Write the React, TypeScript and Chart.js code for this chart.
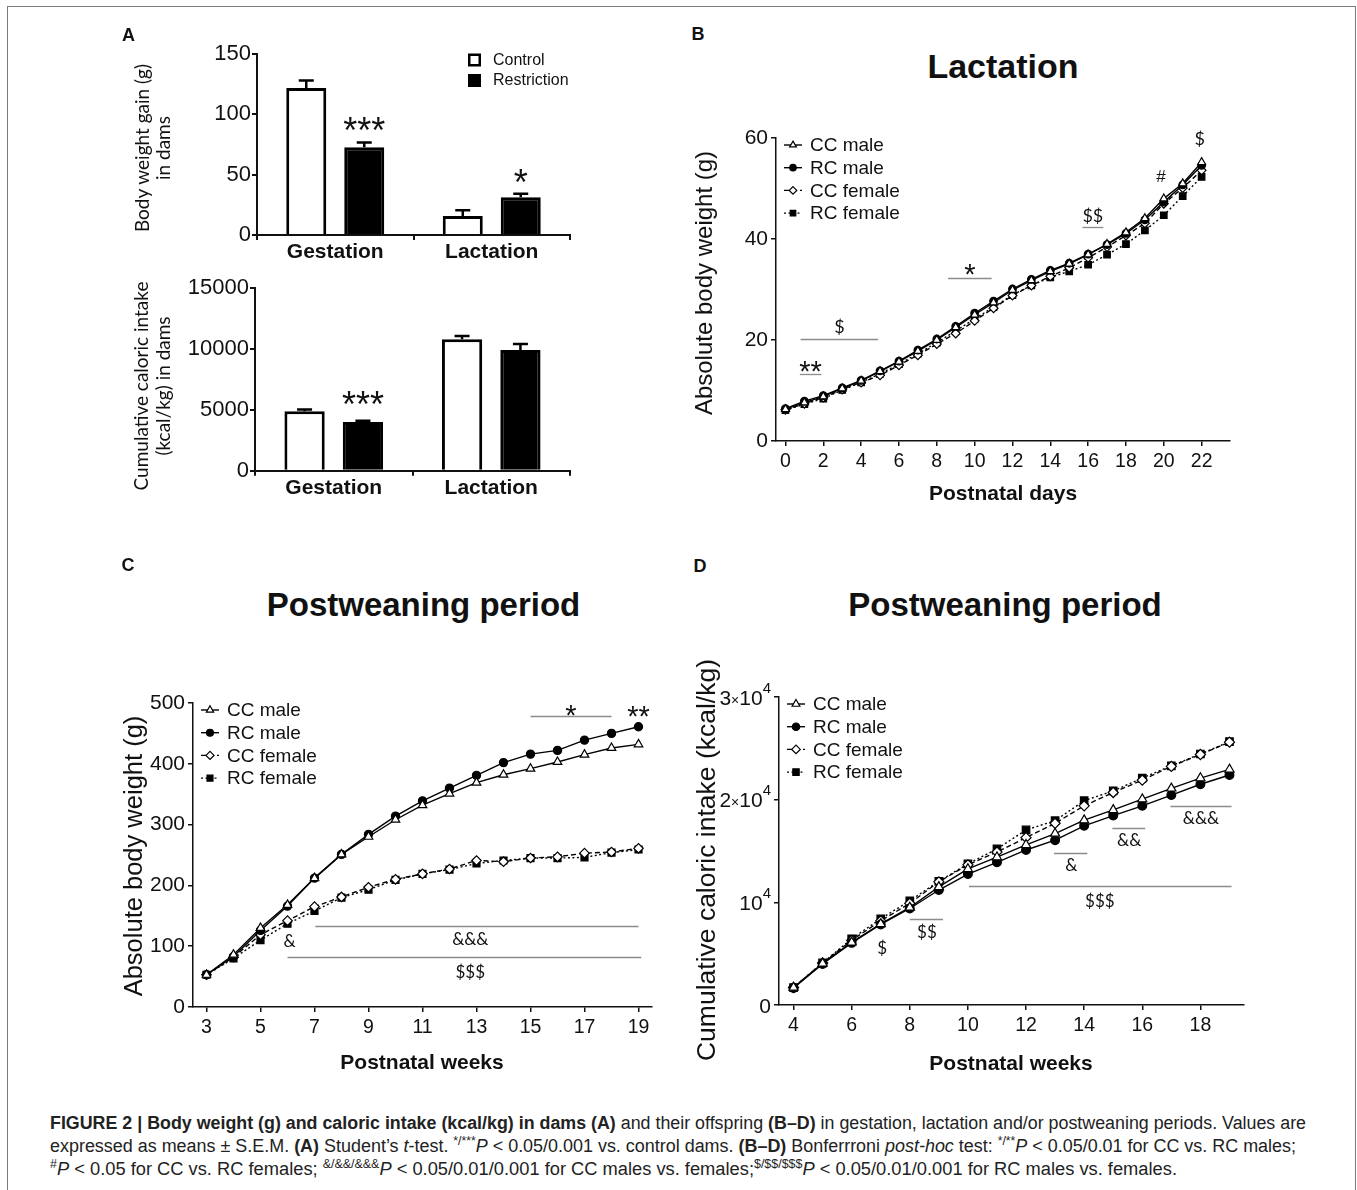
import React, { useEffect, useLayoutEffect, useRef } from "react";
import { Chart, registerables } from "chart.js";

Chart.register(...registerables);

const ARIAL = '"Liberation Sans", Arial, Helvetica, sans-serif';
const SOFT = 'Lato, "Open Sans", sans-serif';
const INK = "#111";

// ---------------- Panel A (dams) ----------------
const damPeriods = ["Gestation", "Lactation"];
const groupNames = ["Control", "Restriction"];
const gainControl = [121.5, 15.8];
const gainControlSem = [6.2, 4.6];
const gainRestriction = [72.6, 31.3];
const gainRestrictionSem = [3.8, 2.8];
const gainTicks = [0, 50, 100, 150];
const gainStars = [
  { index: 0, y: 93.4, text: "***" },
  { index: 1, y: 50.3, text: "*" },
];
const intakeControl = [4890, 10810];
const intakeControlSem = [150, 270];
const intakeRestriction = [4010, 9930];
const intakeRestrictionSem = [90, 490];
const intakeTicks = [0, 5000, 10000, 15000];
const intakeStars = [{ index: 0, y: 6086, text: "***" }];

// ---------------- Offspring series ----------------
const seriesNames = ["CC male", "RC male", "CC female", "RC female"];

// Panel B – lactation, body weight (g)
const lactationDays = [0, 1, 2, 3, 4, 5, 6, 7, 8, 9, 10, 11, 12, 13, 14, 15, 16, 17, 18, 19, 20, 21, 22];
const lactCCMale = [6.3, 7.6, 8.8, 10.4, 11.9, 13.8, 15.7, 17.8, 20.0, 22.5, 25.0, 27.4, 29.9, 31.8, 33.6, 35.1, 36.9, 39.0, 41.3, 44.1, 48.0, 51.0, 55.2];
const lactRCMale = [6.4, 7.9, 9.0, 10.5, 12.0, 13.9, 15.8, 18.0, 20.2, 22.7, 25.3, 27.7, 30.1, 32.0, 33.8, 35.2, 37.0, 38.9, 41.1, 43.8, 47.3, 50.7, 54.6];
const lactCCFemale = [6.2, 7.4, 8.6, 10.2, 11.6, 13.0, 15.0, 17.0, 19.2, 21.3, 23.8, 26.3, 28.8, 30.8, 32.6, 34.3, 36.3, 38.4, 40.7, 43.1, 47.0, 50.1, 53.6];
const lactRCFemale = [6.1, 7.3, 8.4, 10.1, 11.6, 13.3, 15.2, 17.3, 19.5, 21.8, 24.2, 26.5, 28.9, 30.8, 32.4, 33.6, 34.9, 36.9, 39.0, 41.7, 44.7, 48.5, 52.3];
const lactXTicks = [0, 2, 4, 6, 8, 10, 12, 14, 16, 18, 20, 22];
const lactYTicks = [0, 20, 40, 60];
const lactSegs = [
  { from: 0.8, to: 4.9, y: 20.1 },
  { from: 0.76, to: 1.9, y: 13.2 },
  { from: 8.6, to: 10.9, y: 32.3 },
  { from: 15.7, to: 16.8, y: 42.4 },
];
const lactMarks = [
  { x: 2.85, y: 22.7, text: "$" },
  { x: 1.33, y: 15.1, text: "**" },
  { x: 9.75, y: 34.3, text: "*" },
  { x: 16.25, y: 44.7, text: "$$" },
  { x: 19.85, y: 52.5, text: "#" },
  { x: 21.9, y: 59.8, text: "$" },
];

// Panel C – postweaning, body weight (g)
const weeksC = [3, 4, 5, 6, 7, 8, 9, 10, 11, 12, 13, 14, 15, 16, 17, 18, 19];
const pwCCMale = [53, 86, 130, 168, 212, 251, 280, 308, 332, 351, 369, 382, 392, 403, 415, 426, 432];
const pwRCMale = [53, 83, 126, 166, 212, 251, 284, 314, 339, 360, 381, 402, 416, 422, 439, 450, 461];
const pwCCFemale = [53, 82, 119, 142, 165, 181, 197, 210, 219, 227, 241, 239, 245, 247, 253, 255, 261];
const pwRCFemale = [53, 80, 110, 137, 158, 180, 193, 209, 219, 226, 236, 241, 245, 245, 246, 254, 259];
const pwXTicks = [3, 5, 7, 9, 11, 13, 15, 17, 19];
const pwYTicks = [0, 100, 200, 300, 400, 500];
const pwSegs = [
  { from: 15, to: 18, y: 479 },
  { from: 7.03, to: 19, y: 134 },
  { from: 6, to: 19.1, y: 82 },
];
const pwMarks = [
  { x: 16.5, y: 491, text: "*" },
  { x: 19, y: 490, text: "**" },
  { x: 12.77, y: 112, text: "&&&" },
  { x: 6.08, y: 109, text: "&" },
  { x: 12.77, y: 57, text: "$$$" },
];

// Panel D – postweaning, cumulative caloric intake (kcal/kg)
const weeksD = [4, 5, 6, 7, 8, 9, 10, 11, 12, 13, 14, 15, 16, 17, 18, 19];
const kcalCCMale = [1700, 4050, 6100, 7900, 9500, 11500, 13250, 14400, 15600, 16700, 18000, 19000, 20050, 21100, 22100, 22950];
const kcalRCMale = [1650, 4000, 6050, 7850, 9400, 11200, 12750, 13900, 15100, 16050, 17450, 18450, 19400, 20450, 21500, 22400];
const kcalCCFemale = [1700, 4100, 6300, 8200, 9900, 12000, 13650, 14900, 16300, 17700, 19400, 20700, 21900, 23250, 24400, 25600];
const kcalRCFemale = [1700, 4100, 6450, 8400, 10150, 12050, 13750, 15200, 17050, 17950, 19900, 20850, 22100, 23300, 24450, 25650];
const kcalXTicks = [4, 6, 8, 10, 12, 14, 16, 18];
const kcalYTicks = [0, 10000, 20000, 30000];
// mantissa, exponent of each tick label ("" = none)
const kcalYTickMantissa = ["0", "", "2", "3"];
const kcalYTickPower = ["", "10^4", "10^4", "10^4"];
const kcalSegs = [
  { from: 16.97, to: 19.07, y: 19366 },
  { from: 14.97, to: 16.1, y: 17232 },
  { from: 12.96, to: 14.11, y: 14840 },
  { from: 10.04, to: 19.07, y: 11574 },
  { from: 8.0, to: 9.14, y: 8406 },
];
const kcalMarks = [
  { x: 18.02, y: 18266, text: "&&&" },
  { x: 15.55, y: 16068, text: "&&" },
  { x: 13.56, y: 13675, text: "&" },
  { x: 14.54, y: 10119, text: "$$$" },
  { x: 8.59, y: 7113, text: "$$" },
  { x: 7.05, y: 5593, text: "$" },
];

// ---------------- helpers ----------------
type Rect = { x: number; y: number; w: number; h: number };
type Area = { l: number; t: number; r: number; b: number };
type Seg = { from: number; to: number; y: number };
type Mark = { x: number; y: number; text: string };

function geometry(c: Rect, a: Area) {
  return {
    padding: { top: a.t - c.y, right: c.x + c.w - a.r, left: 0, bottom: 0 },
    yWidth: a.l - c.x,
    xHeight: c.y + c.h - a.b,
  };
}

const seriesStyles = [
  { point: "triangle", fill: "#fff", dash: [] as number[], scale: 1.15 },
  { point: "circle", fill: "#000", dash: [] as number[], scale: 0.95 },
  { point: "rectRot", fill: "#fff", dash: [5, 3], scale: 1.1 },
  { point: "rect", fill: "#000", dash: [2, 2.5], scale: 1.15 },
];

function drawMarker(ctx: CanvasRenderingContext2D, style: string, x: number, y: number, r: number, fill: string) {
  ctx.beginPath();
  if (style === "circle") {
    ctx.arc(x, y, r, 0, Math.PI * 2);
  } else if (style === "triangle") {
    for (let k = 0; k < 3; k++) {
      const a = (k * 2 * Math.PI) / 3;
      const px = x + Math.sin(a) * r;
      const py = y - Math.cos(a) * r;
      if (k === 0) ctx.moveTo(px, py);
      else ctx.lineTo(px, py);
    }
    ctx.closePath();
  } else if (style === "rect") {
    const s = r * Math.SQRT1_2;
    ctx.rect(x - s, y - s, 2 * s, 2 * s);
  } else {
    ctx.moveTo(x, y - r);
    ctx.lineTo(x + r, y);
    ctx.lineTo(x, y + r);
    ctx.lineTo(x - r, y);
    ctx.closePath();
  }
  ctx.fillStyle = fill;
  ctx.fill();
  ctx.lineWidth = 1.2;
  ctx.strokeStyle = "#000";
  ctx.stroke();
}

function drawMarkText(ctx: CanvasRenderingContext2D, text: string, px: number, py: number, starSize: number, symSize: number) {
  const isStar = text.indexOf("*") >= 0;
  const isHash = text.indexOf("#") >= 0;
  const size = isStar ? starSize : isHash ? symSize * 0.95 : symSize;
  ctx.font = `${size}px ${isStar || isHash ? ARIAL : SOFT}`;
  ctx.fillStyle = INK;
  ctx.textAlign = "center";
  ctx.textBaseline = "alphabetic";
  ctx.fillText(text, px, py + size * (isStar ? 0.57 : 0.36));
}

// draws "m×10^e" style labels, right-aligned at xr, vertically centred at y
function drawPowerLabel(ctx: CanvasRenderingContext2D, mant: string, power: string, xr: number, y: number) {
  const big = `21px ${ARIAL}`;
  const small = `14px ${ARIAL}`;
  const parts: { t: string; f: string; dy: number }[] = [];
  if (power) {
    const [base, exp] = power.split("^");
    if (mant) {
      parts.push({ t: mant, f: big, dy: 0 });
      parts.push({ t: "×", f: small, dy: 0 });
    }
    parts.push({ t: base, f: big, dy: 0 });
    parts.push({ t: exp, f: `15px ${ARIAL}`, dy: -12 });
  } else {
    parts.push({ t: mant, f: big, dy: 0 });
  }
  let total = 0;
  parts.forEach((p) => {
    ctx.font = p.f;
    total += ctx.measureText(p.t).width;
  });
  let x = xr - total;
  ctx.fillStyle = INK;
  ctx.textAlign = "left";
  ctx.textBaseline = "alphabetic";
  parts.forEach((p) => {
    ctx.font = p.f;
    ctx.fillText(p.t, x, y + 7.5 + p.dy);
    x += ctx.measureText(p.t).width;
  });
}

function lineConfig(p: {
  xs: number[];
  series: number[][];
  xMin: number;
  xMax: number;
  xTicks: number[];
  yMax: number;
  yTicks: number[];
  yMantissa?: string[];
  yPower?: string[];
  canvas: Rect;
  area: Area;
  segs: Seg[];
  marks: Mark[];
  radius: number;
  starSize: number;
  symSize: number;
}) {
  const g = geometry(p.canvas, p.area);
  const datasets = seriesNames.map((name, i) => ({
    label: name,
    data: p.xs.map((x, j) => ({ x, y: p.series[i][j] })),
    borderColor: "#000",
    borderWidth: 1.4,
    borderDash: seriesStyles[i].dash,
    pointStyle: seriesStyles[i].point,
    pointRadius: p.radius * seriesStyles[i].scale,
    pointBackgroundColor: seriesStyles[i].fill,
    pointBorderColor: "#000",
    pointBorderWidth: 1.2,
    tension: 0,
    fill: false,
  }));
  const custom = !!p.yPower;
  const overlay = {
    id: "overlay",
    afterDatasetsDraw(chart: any) {
      const { ctx, chartArea: ca } = chart;
      const xs = chart.scales.x;
      const ys = chart.scales.y;
      ctx.save();
      ctx.strokeStyle = "#8c8c8c";
      ctx.lineWidth = 1.3;
      p.segs.forEach((s) => {
        const py = Math.round(ys.getPixelForValue(s.y)) + 0.5;
        ctx.beginPath();
        ctx.moveTo(xs.getPixelForValue(s.from), py);
        ctx.lineTo(xs.getPixelForValue(s.to), py);
        ctx.stroke();
      });
      p.marks.forEach((m) => {
        drawMarkText(ctx, m.text, xs.getPixelForValue(m.x), ys.getPixelForValue(m.y), p.starSize, p.symSize);
      });
      if (custom) {
        p.yTicks.forEach((v, k) => {
          drawPowerLabel(ctx, (p.yMantissa as string[])[k], (p.yPower as string[])[k], ca.left - 8, ys.getPixelForValue(v));
        });
      }
      // legend
      chart.data.datasets.forEach((ds: any, i: number) => {
        const y = ca.top + 7 + i * 22.7;
        const x0 = ca.left + 8;
        const x1 = ca.left + 26;
        ctx.save();
        ctx.strokeStyle = "#000";
        ctx.lineWidth = ds.borderWidth;
        ctx.setLineDash(ds.borderDash || []);
        ctx.beginPath();
        ctx.moveTo(x0, y);
        ctx.lineTo(x1, y);
        ctx.stroke();
        ctx.setLineDash([]);
        drawMarker(ctx, ds.pointStyle, (x0 + x1) / 2, y, ds.pointRadius * 0.85, ds.pointBackgroundColor);
        ctx.fillStyle = INK;
        ctx.font = `19px ${ARIAL}`;
        ctx.textAlign = "left";
        ctx.textBaseline = "middle";
        ctx.fillText(ds.label, ca.left + 34, y + 1);
        ctx.restore();
      });
      ctx.restore();
    },
  };
  return {
    type: "line",
    data: { datasets },
    plugins: [overlay],
    options: {
      responsive: false,
      animation: false,
      events: [],
      layout: { padding: g.padding },
      plugins: { legend: { display: false }, tooltip: { enabled: false } },
      scales: {
        x: {
          type: "linear",
          min: p.xMin,
          max: p.xMax,
          afterBuildTicks: (ax: any) => {
            ax.ticks = p.xTicks.map((v) => ({ value: v }));
          },
          afterFit: (ax: any) => {
            ax.height = g.xHeight;
          },
          grid: { display: true, drawOnChartArea: false, drawTicks: true, tickLength: 5, color: INK, lineWidth: 1.5 },
          border: { display: true, color: INK, width: 1.5 },
          ticks: { font: { family: ARIAL, size: 19.5 }, color: INK, padding: 4, maxRotation: 0, autoSkip: false },
        },
        y: {
          type: "linear",
          min: 0,
          max: p.yMax,
          afterBuildTicks: (ax: any) => {
            ax.ticks = p.yTicks.map((v) => ({ value: v }));
          },
          afterFit: (ax: any) => {
            ax.width = g.yWidth;
          },
          grid: { display: true, drawOnChartArea: false, drawTicks: true, tickLength: 5, color: INK, lineWidth: 1.5 },
          border: { display: true, color: INK, width: 1.5 },
          ticks: {
            font: { family: ARIAL, size: 21 },
            color: INK,
            padding: 3,
            autoSkip: false,
            callback: (v: number) => (custom ? "" : String(v)),
          },
        },
      },
    },
  };
}

function barConfig(p: {
  control: number[];
  controlSem: number[];
  restriction: number[];
  restrictionSem: number[];
  yMax: number;
  yTicks: number[];
  canvas: Rect;
  area: Area;
  stars: { index: number; y: number; text: string }[];
  legend: boolean;
}) {
  const g = geometry(p.canvas, p.area);
  const sems = [p.controlSem, p.restrictionSem];
  const means = [p.control, p.restriction];
  const overlay = {
    id: "overlayBars",
    afterDatasetsDraw(chart: any) {
      const { ctx, chartArea: ca } = chart;
      const ys = chart.scales.y;
      ctx.save();
      ctx.strokeStyle = "#000";
      ctx.lineWidth = 2.5;
      [0, 1].forEach((d) => {
        chart.getDatasetMeta(d).data.forEach((el: any, i: number) => {
          const top = ys.getPixelForValue(means[d][i] + sems[d][i]);
          ctx.beginPath();
          ctx.moveTo(el.x, el.y);
          ctx.lineTo(el.x, top);
          ctx.moveTo(el.x - 7.5, top);
          ctx.lineTo(el.x + 7.5, top);
          ctx.stroke();
        });
      });
      p.stars.forEach((s) => {
        const el = chart.getDatasetMeta(1).data[s.index];
        drawMarkText(ctx, s.text, el.x, ys.getPixelForValue(s.y), 36, 18);
      });
      if (p.legend) {
        groupNames.forEach((name, i) => {
          const cy = ca.top + 6 + i * 20.5;
          const bx = ca.right - 102;
          ctx.fillStyle = i === 0 ? "#fff" : "#000";
          ctx.fillRect(bx, cy - 6, 13, 13);
          ctx.lineWidth = 2.5;
          ctx.strokeStyle = "#000";
          ctx.strokeRect(bx + 1.25, cy - 4.75, 10.5, 10.5);
          ctx.fillStyle = INK;
          ctx.font = `16px ${ARIAL}`;
          ctx.textAlign = "left";
          ctx.textBaseline = "middle";
          ctx.fillText(name, ca.right - 77, cy + 1);
        });
      }
      ctx.restore();
    },
  };
  return {
    type: "bar",
    data: {
      labels: damPeriods,
      datasets: [
        {
          label: groupNames[0],
          data: p.control,
          backgroundColor: "#fff",
          borderColor: "#000",
          borderWidth: 3,
          categoryPercentage: 0.741,
          barPercentage: 0.69,
        },
        {
          label: groupNames[1],
          data: p.restriction,
          backgroundColor: "#000",
          borderColor: "#000",
          borderWidth: 3,
          categoryPercentage: 0.741,
          barPercentage: 0.69,
        },
      ],
    },
    plugins: [overlay],
    options: {
      responsive: false,
      animation: false,
      events: [],
      layout: { padding: g.padding },
      plugins: { legend: { display: false }, tooltip: { enabled: false } },
      scales: {
        x: {
          afterFit: (ax: any) => {
            ax.height = g.xHeight;
          },
          grid: { display: true, drawOnChartArea: false, drawTicks: true, tickLength: 5, color: INK, lineWidth: 2 },
          border: { display: true, color: INK, width: 2 },
          ticks: { font: { family: ARIAL, size: 21, weight: "bold" }, color: INK, padding: 0, maxRotation: 0 },
        },
        y: {
          min: 0,
          max: p.yMax,
          afterBuildTicks: (ax: any) => {
            ax.ticks = p.yTicks.map((v) => ({ value: v }));
          },
          afterFit: (ax: any) => {
            ax.width = g.yWidth;
          },
          grid: { display: true, drawOnChartArea: false, drawTicks: true, tickLength: 5, color: INK, lineWidth: 2 },
          border: { display: true, color: INK, width: 2 },
          ticks: { font: { family: ARIAL, size: 22 }, color: INK, padding: 1, autoSkip: false, callback: (v: number) => String(v) },
        },
      },
    },
  };
}

function ChartCanvas({ rect, build }: { rect: Rect; build: () => any }) {
  const ref = useRef<HTMLCanvasElement>(null);
  useEffect(() => {
    const chart = new Chart(ref.current as HTMLCanvasElement, build());
    return () => chart.destroy();
  }, []);
  return (
    <canvas
      ref={ref}
      width={rect.w}
      height={rect.h}
      style={{ position: "absolute", left: rect.x, top: rect.y, width: rect.w, height: rect.h }}
    />
  );
}

function T(props: { x: number; y: number; size: number; bold?: boolean; family?: string; rot?: number; children: any }) {
  return (
    <div
      style={{
        position: "absolute",
        left: props.x,
        top: props.y,
        transform: `translate(-50%, -50%)${props.rot ? ` rotate(${props.rot}deg)` : ""}`,
        fontSize: props.size,
        fontWeight: props.bold ? 700 : 400,
        fontFamily: props.family || ARIAL,
        lineHeight: 1,
        whiteSpace: "nowrap",
        color: INK,
      }}
    >
      {props.children}
    </div>
  );
}

// caption line squeezed horizontally to the reference's condensed type width
function FitLine({ width, children }: { width: number; children: any }) {
  const ref = useRef<HTMLDivElement>(null);
  useLayoutEffect(() => {
    const el = ref.current as HTMLDivElement;
    el.style.transform = "";
    const w = el.getBoundingClientRect().width;
    if (w > 0) el.style.transform = `scaleX(${width / w})`;
  }, []);
  return (
    <div style={{ height: 23 }}>
      <div ref={ref} style={{ display: "inline-block", transformOrigin: "0 0", whiteSpace: "nowrap" }}>
        {children}
      </div>
    </div>
  );
}

const rectA1: Rect = { x: 100, y: 20, w: 490, h: 255 };
const areaA1: Area = { l: 257, t: 53.5, r: 570, b: 235 };
const rectA2: Rect = { x: 100, y: 270, w: 490, h: 245 };
const areaA2: Area = { l: 255, t: 288.3, r: 570, b: 470.7 };
const rectB: Rect = { x: 680, y: 110, w: 570, h: 410 };
const areaB: Area = { l: 776, t: 138, r: 1230, b: 441 };
const rectC: Rect = { x: 100, y: 670, w: 570, h: 410 };
const areaC: Area = { l: 193, t: 703, r: 652, b: 1007 };
const rectD: Rect = { x: 680, y: 640, w: 580, h: 440 };
const areaD: Area = { l: 779, t: 697, r: 1244, b: 1005 };

const sup = { fontSize: "68%", verticalAlign: "super", lineHeight: 0 } as const;

export default function App() {
  return (
    <div
      style={{
        position: "absolute",
        left: 0,
        top: 0,
        width: 1357,
        height: 1190,
        background: "#fff",
        overflow: "hidden",
        fontFamily: ARIAL,
      }}
    >
      <div
        style={{
          position: "absolute",
          left: 7,
          top: 6,
          width: 1349,
          height: 1230,
          boxSizing: "border-box",
          border: "1.5px solid #7a7a7a",
        }}
      />

      <ChartCanvas
        rect={rectA1}
        build={() =>
          barConfig({
            control: gainControl,
            controlSem: gainControlSem,
            restriction: gainRestriction,
            restrictionSem: gainRestrictionSem,
            yMax: 150,
            yTicks: gainTicks,
            canvas: rectA1,
            area: areaA1,
            stars: gainStars,
            legend: true,
          })
        }
      />
      <ChartCanvas
        rect={rectA2}
        build={() =>
          barConfig({
            control: intakeControl,
            controlSem: intakeControlSem,
            restriction: intakeRestriction,
            restrictionSem: intakeRestrictionSem,
            yMax: 15000,
            yTicks: intakeTicks,
            canvas: rectA2,
            area: areaA2,
            stars: intakeStars,
            legend: false,
          })
        }
      />
      <ChartCanvas
        rect={rectB}
        build={() =>
          lineConfig({
            xs: lactationDays,
            series: [lactCCMale, lactRCMale, lactCCFemale, lactRCFemale],
            xMin: -0.5,
            xMax: 23.5,
            xTicks: lactXTicks,
            yMax: 60,
            yTicks: lactYTicks,
            canvas: rectB,
            area: areaB,
            segs: lactSegs,
            marks: lactMarks,
            radius: 4,
            starSize: 29,
            symSize: 18,
          })
        }
      />
      <ChartCanvas
        rect={rectC}
        build={() =>
          lineConfig({
            xs: weeksC,
            series: [pwCCMale, pwRCMale, pwCCFemale, pwRCFemale],
            xMin: 2.5,
            xMax: 19.5,
            xTicks: pwXTicks,
            yMax: 500,
            yTicks: pwYTicks,
            canvas: rectC,
            area: areaC,
            segs: pwSegs,
            marks: pwMarks,
            radius: 4.3,
            starSize: 29,
            symSize: 17,
          })
        }
      />
      <ChartCanvas
        rect={rectD}
        build={() =>
          lineConfig({
            xs: weeksD,
            series: [kcalCCMale, kcalRCMale, kcalCCFemale, kcalRCFemale],
            xMin: 3.5,
            xMax: 19.5,
            xTicks: kcalXTicks,
            yMax: 30000,
            yTicks: kcalYTicks,
            yMantissa: kcalYTickMantissa,
            yPower: kcalYTickPower,
            canvas: rectD,
            area: areaD,
            segs: kcalSegs,
            marks: kcalMarks,
            radius: 4.6,
            starSize: 29,
            symSize: 17,
          })
        }
      />

      {/* panel letters and titles */}
      <T x={128.5} y={35} size={18} bold>A</T>
      <T x={698} y={34} size={18} bold>B</T>
      <T x={128} y={565} size={18} bold>C</T>
      <T x={700} y={566} size={18} bold>D</T>
      <T x={1003} y={66} size={34} bold>Lactation</T>
      <T x={423.5} y={604} size={33} bold>Postweaning period</T>
      <T x={1005} y={604} size={33} bold>Postweaning period</T>

      {/* axis titles */}
      <T x={141} y={148} size={19} family={SOFT} rot={-90}>Body weight gain (g)</T>
      <T x={162} y={148} size={19} family={SOFT} rot={-90}>in dams</T>
      <T x={140} y={386} size={19} family={SOFT} rot={-90}>Cumulative caloric intake</T>
      <T x={162} y={386} size={19} family={SOFT} rot={-90}>(kcal/kg) in dams</T>
      <T x={704} y={283} size={24} rot={-90}>Absolute body weight (g)</T>
      <T x={134} y={856} size={25.5} rot={-90}>Absolute body weight (g)</T>
      <T x={706} y={860} size={26.5} rot={-90}>Cumulative caloric intake (kcal/kg)</T>
      <T x={1003} y={492} size={21} bold>Postnatal days</T>
      <T x={422} y={1061} size={21} bold>Postnatal weeks</T>
      <T x={1011} y={1062} size={21} bold>Postnatal weeks</T>

      {/* caption */}
      <div
        style={{
          position: "absolute",
          left: 50,
          top: 1111.5,
          fontFamily: ARIAL,
          fontSize: 18,
          lineHeight: "23px",
          color: "#222",
        }}
      >
        <FitLine width={1256}>
          <b>FIGURE 2 | Body weight (g) and caloric intake (kcal/kg) in dams (A)</b> and their offspring <b>(B–D)</b> in
          gestation, lactation and/or postweaning periods. Values are
        </FitLine>
        <FitLine width={1246}>
          expressed as means ± S.E.M. <b>(A)</b> Student’s <i>t</i>-test. <span style={sup}>*/***</span>
          <i>P</i> &lt; 0.05/0.001 vs. control dams. <b>(B–D)</b> Bonferrroni <i>post-hoc</i> test:{" "}
          <span style={sup}>*/**</span>
          <i>P</i> &lt; 0.05/0.01 for CC vs. RC males;
        </FitLine>
        <FitLine width={1127}>
          <span style={sup}>#</span>
          <i>P</i> &lt; 0.05 for CC vs. RC females; <span style={sup}>&amp;/&amp;&amp;/&amp;&amp;&amp;</span>
          <i>P</i> &lt; 0.05/0.01/0.001 for CC males vs. females;<span style={sup}>$/$$/$$$</span>
          <i>P</i> &lt; 0.05/0.01/0.001 for RC males vs. females.
        </FitLine>
      </div>
    </div>
  );
}
